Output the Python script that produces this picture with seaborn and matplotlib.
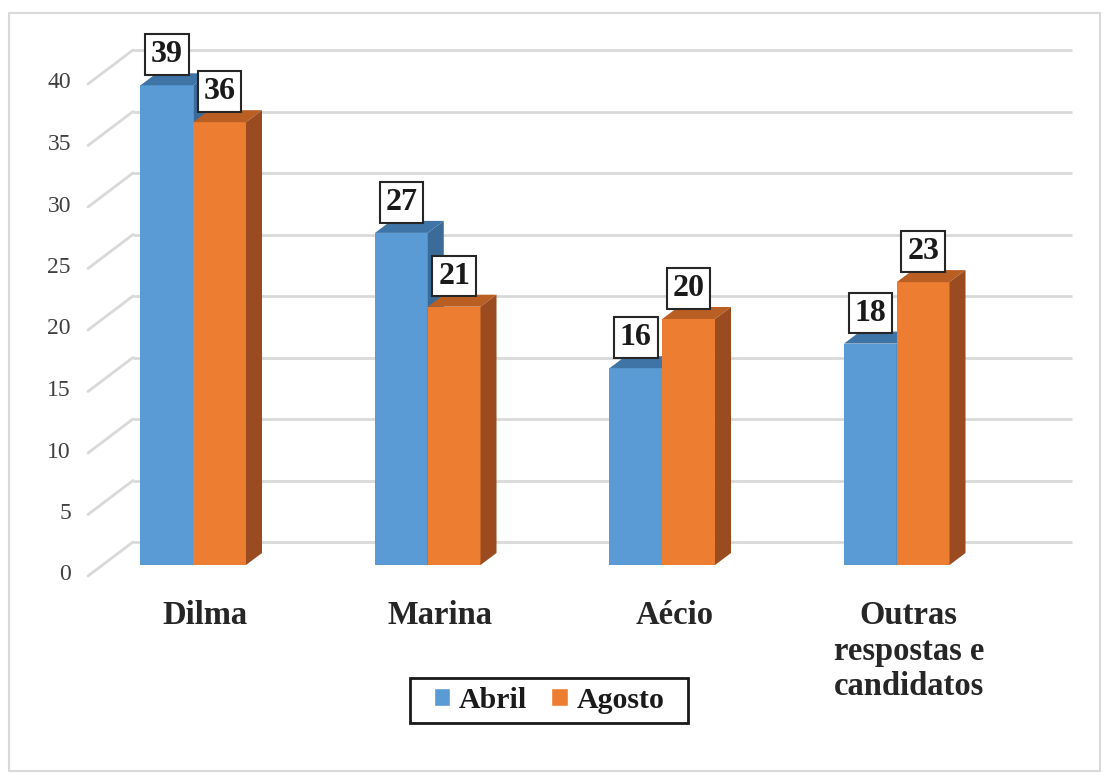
import pandas as pd
import seaborn as sns
import matplotlib.pyplot as plt
import matplotlib.transforms as mtransforms
from matplotlib.patches import Polygon, Rectangle
from matplotlib.lines import Line2D

candidatos = ["Dilma", "Marina", "Aécio", "Outras\nrespostas e\ncandidatos"]
periodos = ["Abril", "Agosto"]
abril = [39, 27, 16, 18]
agosto = [36, 21, 20, 23]
yticks = [0, 5, 10, 15, 20, 25, 30, 35, 40]

cor_frente = ["#5B9BD5", "#ED7D31"]
cor_topo = ["#3F74A6", "#BA5F24"]
cor_lado = ["#3A6B99", "#9A4B1F"]

df = pd.DataFrame({
    "candidato": candidatos * 2,
    "periodo": [periodos[0]] * 4 + [periodos[1]] * 4,
    "valor": abril + agosto,
})

sns.set_style("white")
plt.rcParams["font.family"] = ["Liberation Serif", "DejaVu Serif"]

DPI = 100
fig = plt.figure(figsize=(11.11, 7.83), dpi=DPI)
W, H = 1111, 783
ax = fig.add_axes([76 / W, (H - 565) / H, 938 / W, 492 / H])

sns.barplot(data=df, x="candidato", y="valor", hue="periodo", palette=cor_frente,
            width=0.45, saturation=1, dodge=True, ax=ax, legend=True)

ax.set_xlim(-0.5, 3.5)
ax.set_ylim(0, 40)
ax.set_xlabel("")
ax.set_ylabel("")
for s in ax.spines.values():
    s.set_visible(False)
ax.set_yticks([])
ax.tick_params(axis="x", length=0, pad=25)

# grelha no plano de fundo (deslocada para cima)
px = lambda p: p / DPI
fundo = mtransforms.ScaledTranslation(0, px(23), fig.dpi_scale_trans)
ax.hlines(yticks, (133 - 76) / 938, (1072 - 76) / 938,
          transform=ax.get_yaxis_transform() + fundo,
          colors="#D9D9D9", lw=2, zorder=1, clip_on=False)

# linhas diagonais do chão e rótulos do eixo y
for v in yticks:
    _, yv = ax.transData.transform((0, v))
    ax.add_line(Line2D([88, 133], [yv - 11, yv + 23], transform=None,
                       color="#D9D9D9", lw=2, zorder=1, clip_on=False))
    ax.text(71, yv - 10, str(v), transform=None, ha="right", va="center",
            fontsize=17, color="#404040")

# efeito 3D nas barras
dx, dz = 16, 12
for i, cont in enumerate(ax.containers):
    for bar in cont:
        bar.set_zorder(3 + i * 0.2)
        bar.set_edgecolor("none")
        x0, y0 = ax.transData.transform((bar.get_x(), 0))
        x1, y1 = ax.transData.transform((bar.get_x() + bar.get_width(), bar.get_height()))
        topo = Polygon([(x0, y1), (x1, y1), (x1 + dx, y1 + dz), (x0 + dx, y1 + dz)],
                       closed=True, transform=None, facecolor=cor_topo[i],
                       edgecolor="none", zorder=3.1 + i * 0.2)
        lado = Polygon([(x1, y0), (x1 + dx, y0 + dz), (x1 + dx, y1 + dz), (x1, y1)],
                       closed=True, transform=None, facecolor=cor_lado[i],
                       edgecolor="none", zorder=3.1 + i * 0.2)
        ax.add_patch(topo)
        ax.add_patch(lado)
        ax.annotate(f"{int(bar.get_height())}",
                    (bar.get_x() + bar.get_width() / 2, bar.get_height()),
                    xytext=(0, 22), textcoords="offset points",
                    ha="center", va="center", fontsize=23, fontweight="bold",
                    color="#1a1a1a", zorder=6,
                    bbox=dict(boxstyle="square,pad=0.18", fc="white",
                              ec="#262626", lw=1.5))

# rótulos das categorias
desloc = mtransforms.ScaledTranslation(px(12), 0, fig.dpi_scale_trans)
for lbl in ax.get_xticklabels():
    lbl.set_fontsize(23.5)
    lbl.set_fontweight("bold")
    lbl.set_color("#262626")
    lbl.set_linespacing(1.2)
    lbl.set_transform(lbl.get_transform() + desloc)

handles, labels = ax.get_legend_handles_labels()
leg = ax.legend(handles, labels, loc="center", bbox_to_anchor=(549 / W, 1 - 700 / H),
                bbox_transform=fig.transFigure, ncol=2, frameon=False,
                prop={"size": 21.5, "weight": "bold"}, handlelength=0.55,
                handleheight=0.55, handletextpad=0.3, columnspacing=0.8,
                borderpad=0, borderaxespad=0)
for t in leg.get_texts():
    t.set_color("#1a1a1a")

# moldura da legenda com mais folga horizontal
fig.canvas.draw()
bb = leg.get_window_extent()
fig.patches.append(Rectangle((bb.x0 - 24, bb.y0 - 9), bb.width + 48, bb.height + 18,
                             transform=None, fill=False, edgecolor="#1a1a1a", lw=2))

fig.patches.append(Rectangle((9, 12), 1091, 758, transform=None, fill=False,
                             edgecolor="#D9D9D9", lw=1.5))

fig.savefig("out.png", dpi=DPI)
